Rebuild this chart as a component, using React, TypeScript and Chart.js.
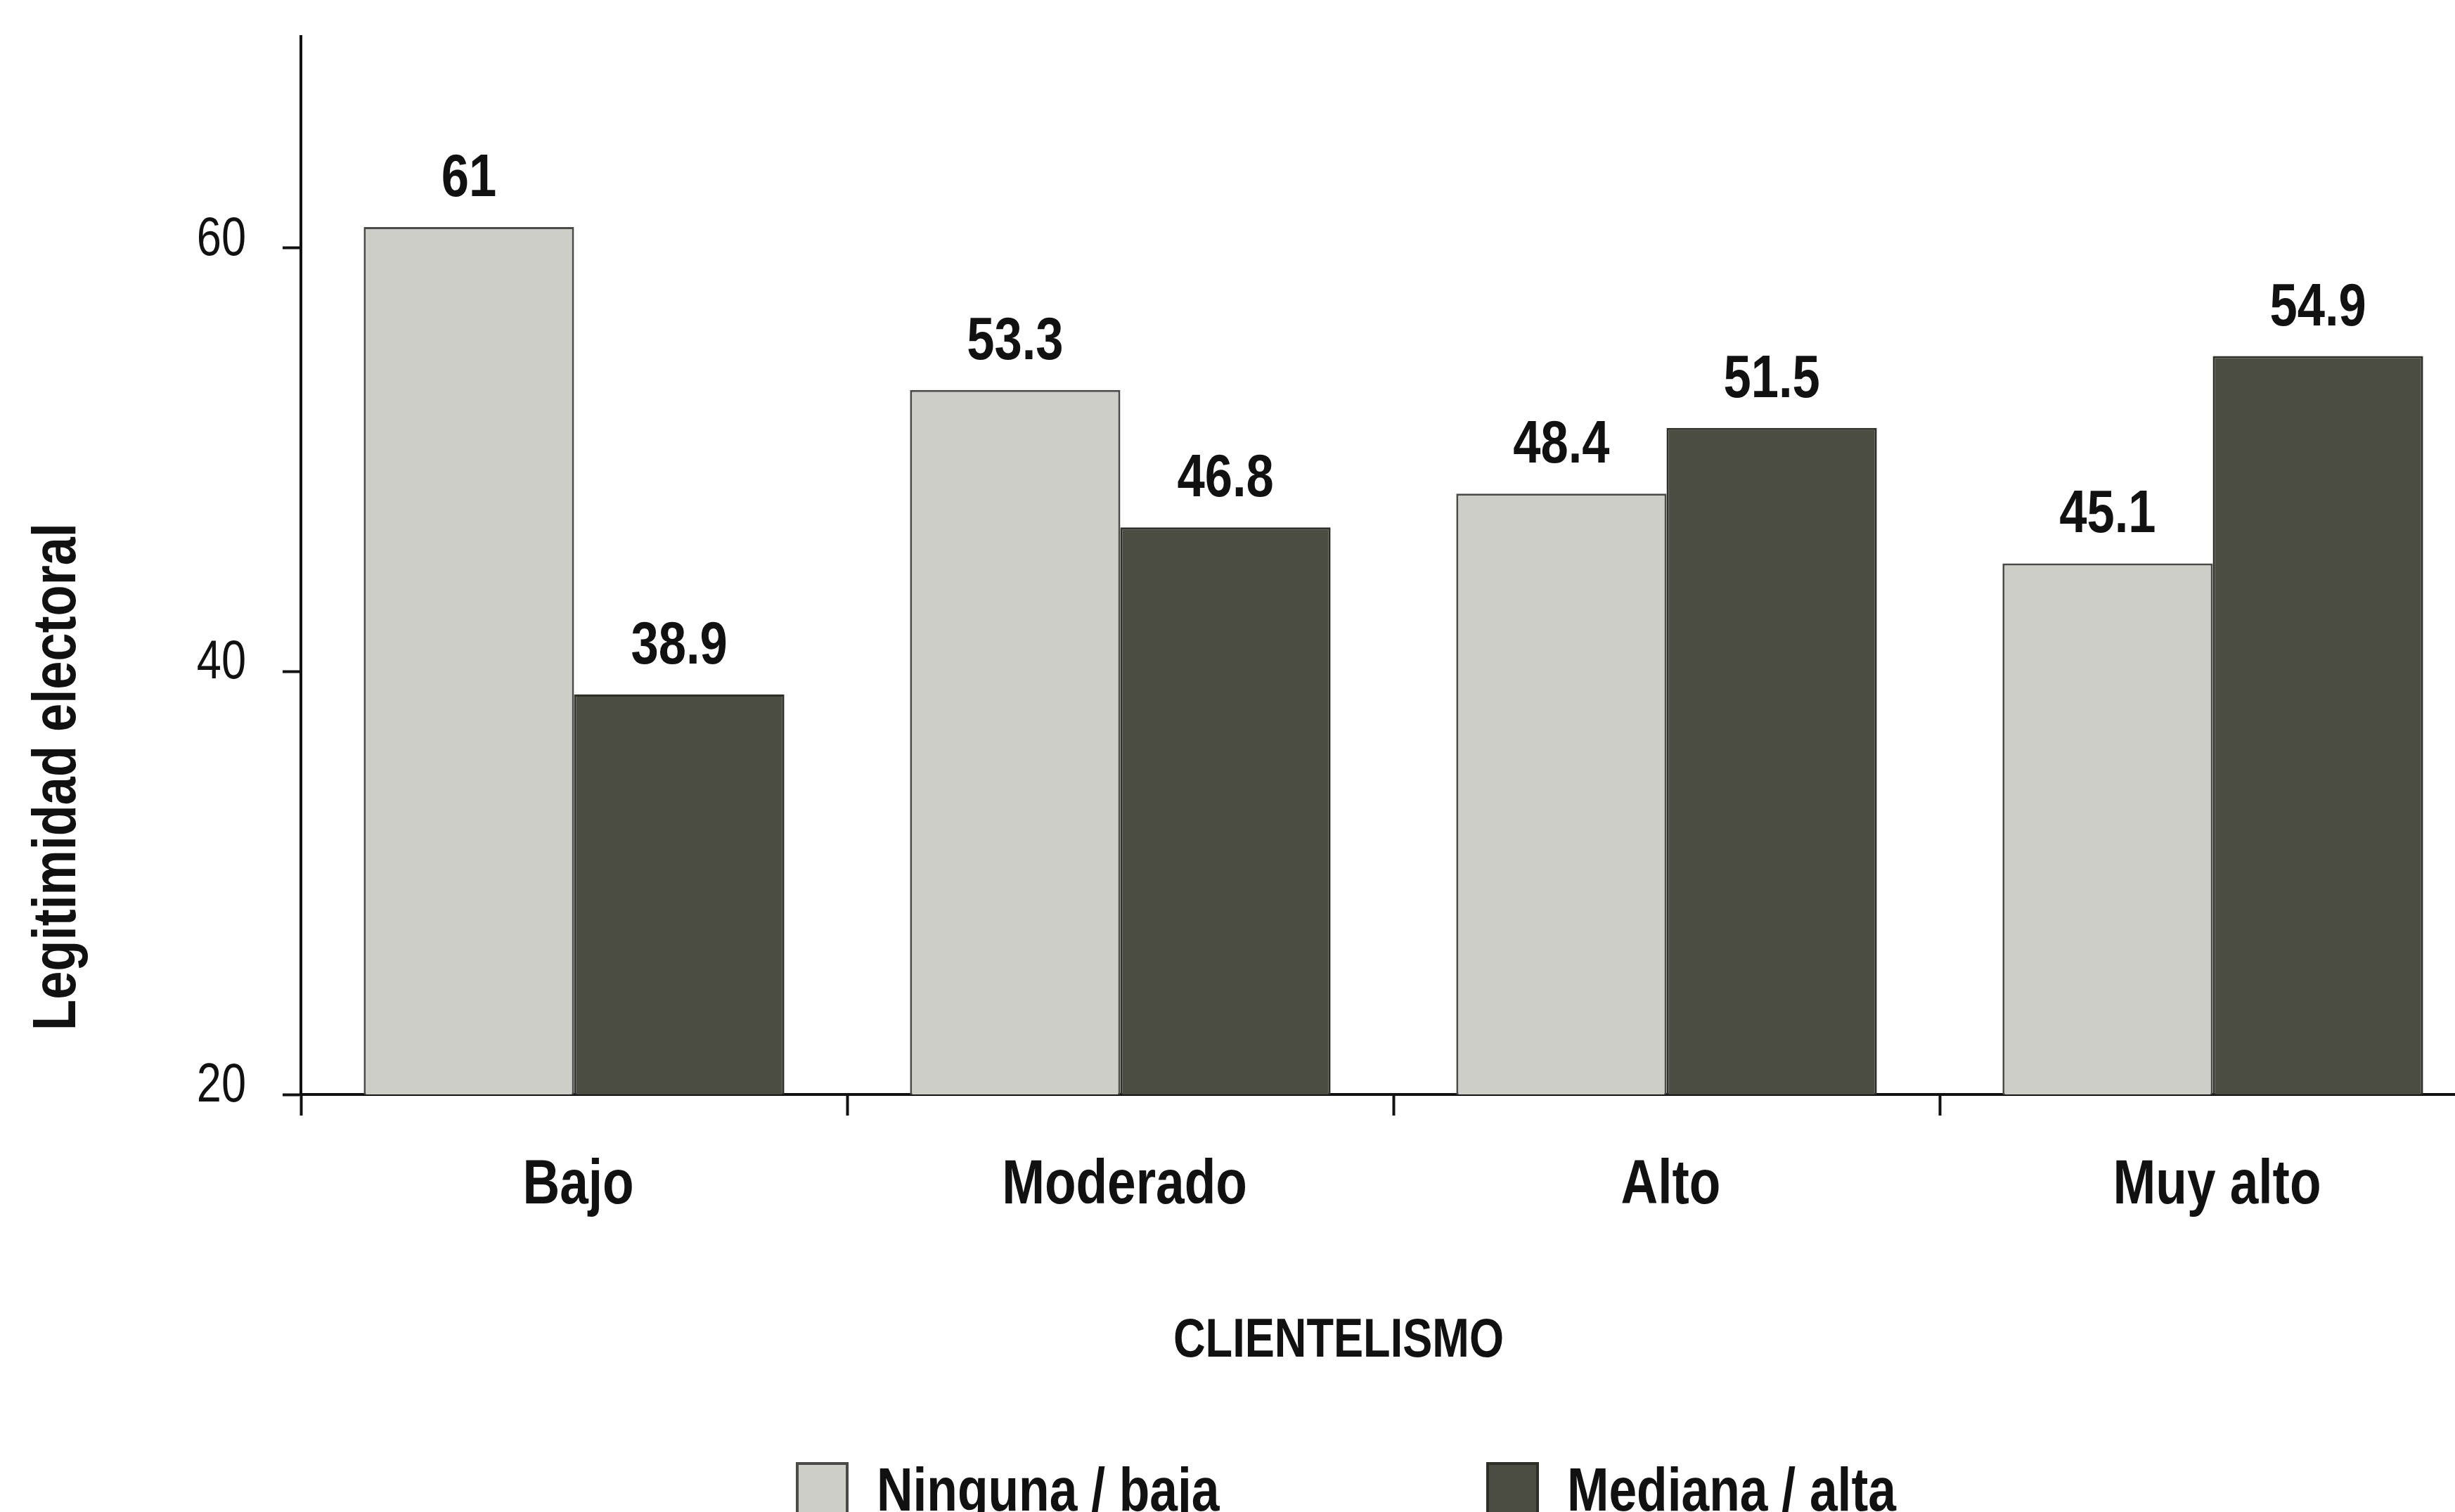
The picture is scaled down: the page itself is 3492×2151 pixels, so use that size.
import React, { useEffect, useRef } from "react";
import { Chart, registerables } from "chart.js";

Chart.register(...registerables);

const categories = ["Bajo", "Moderado", "Alto", "Muy alto"];
const seriesNames = ["Ninguna / baja", "Mediana / alta"];
const ningunaBaja = [61, 53.3, 48.4, 45.1];
const medianaAlta = [38.9, 46.8, 51.5, 54.9];
const yTicks = [20, 40, 60];
const yMin = 20;
const yMax = 70;
const yTitle = "Legitimidad electoral";
const xTitle = "CLIENTELISMO";

const FONT = '"Liberation Sans", Arial, sans-serif';
const NARROW = 0.82; // emulates Arial Narrow
const TEXT = "#111111";
const LIGHT = "#cdcec8";
const DARK = "#4b4d43";
const LIGHT_BORDER = "#4a4a48";
const DARK_BORDER = "#2e2f28";

const CANVAS_W = 3540;
const CANVAS_H = 2151;

function narrowText(
  ctx: CanvasRenderingContext2D,
  text: string,
  x: number,
  y: number,
  align: CanvasTextAlign,
  rotate = 0
) {
  ctx.save();
  ctx.translate(x, y);
  if (rotate) ctx.rotate(rotate);
  ctx.scale(NARROW, 1);
  ctx.textAlign = align;
  ctx.textBaseline = "alphabetic";
  ctx.fillText(text, 0, 0);
  ctx.restore();
}

const extras = {
  id: "extras",
  afterDatasetsDraw(chart: any) {
    const ctx = chart.ctx;
    ctx.save();
    ctx.fillStyle = TEXT;
    ctx.font = `bold 86px ${FONT}`;
    chart.data.datasets.forEach((ds: any, i: number) => {
      chart.getDatasetMeta(i).data.forEach((bar: any, j: number) => {
        narrowText(ctx, String(ds.data[j]), bar.x, bar.y - 44, "center");
      });
    });
    ctx.restore();
  },
  afterDraw(chart: any) {
    const ctx = chart.ctx;
    const xs = chart.scales.x;
    const ys = chart.scales.y;
    ctx.save();
    ctx.fillStyle = TEXT;

    // y tick labels (from the y scale's own ticks)
    ctx.font = `77px ${FONT}`;
    ys.ticks.forEach((t: any) => {
      const py = ys.getPixelForValue(t.value);
      narrowText(ctx, String(t.value), ys.right - 78, py + 10, "right");
    });

    // x category labels (from the x scale)
    ctx.font = `bold 89px ${FONT}`;
    chart.data.labels.forEach((lab: string, i: number) => {
      const px = xs.getPixelForTick(i);
      narrowText(ctx, lab, px + 6, xs.top + 155, "center");
    });

    // y title
    ctx.font = `bold 88px ${FONT}`;
    narrowText(ctx, yTitle, 107, 1105, "center", -Math.PI / 2);

    // x title
    ctx.font = `bold 77px ${FONT}`;
    narrowText(ctx, xTitle, 1904, 1930, "center");

    // legend
    const boxX = [1132, 2114];
    ctx.font = `bold 87px ${FONT}`;
    chart.data.datasets.forEach((ds: any, i: number) => {
      ctx.fillStyle = ds.backgroundColor;
      ctx.fillRect(boxX[i], 2080, 75, 75);
      ctx.strokeStyle = ds.borderColor;
      ctx.lineWidth = 4;
      ctx.strokeRect(boxX[i] + 2, 2082, 71, 71);
      ctx.fillStyle = TEXT;
      narrowText(ctx, ds.label, boxX[i] + 115, 2149, "left");
    });
    ctx.restore();
  },
};

export default function App() {
  const ref = useRef<HTMLCanvasElement | null>(null);

  useEffect(() => {
    if (!ref.current) return;
    const chart = new Chart(ref.current, {
      type: "bar",
      data: {
        labels: categories,
        datasets: [
          {
            label: seriesNames[0],
            data: ningunaBaja,
            backgroundColor: LIGHT,
            borderColor: LIGHT_BORDER,
            borderWidth: 3,
            categoryPercentage: 0.77,
            barPercentage: 1,
          },
          {
            label: seriesNames[1],
            data: medianaAlta,
            backgroundColor: DARK,
            borderColor: DARK_BORDER,
            borderWidth: 3,
            categoryPercentage: 0.77,
            barPercentage: 1,
          },
        ],
      },
      options: {
        animation: false,
        responsive: false,
        devicePixelRatio: 1,
        layout: { padding: { left: 0, top: 52, right: 4, bottom: 0 } },
        plugins: {
          legend: { display: false },
          tooltip: { enabled: false },
          title: { display: false },
        },
        scales: {
          x: {
            afterFit: (scale: any) => {
              scale.height = 594;
            },
            grid: {
              offset: true,
              drawOnChartArea: false,
              drawTicks: true,
              tickLength: 30,
              tickColor: "#111",
              tickWidth: 4,
            },
            border: { display: true, color: "#111", width: 4 },
            ticks: { display: false },
          },
          y: {
            min: yMin,
            max: yMax,
            afterFit: (scale: any) => {
              scale.width = 428;
            },
            afterBuildTicks: (scale: any) => {
              scale.ticks = yTicks.map((v) => ({ value: v }));
            },
            grid: {
              drawOnChartArea: false,
              drawTicks: true,
              tickLength: 26,
              tickColor: "#111",
              tickWidth: 4,
            },
            border: { display: true, color: "#111", width: 4 },
            ticks: { display: false },
          },
        },
      },
      plugins: [extras],
    });
    return () => chart.destroy();
  }, []);

  return (
    <div
      style={{
        position: "fixed",
        left: 0,
        top: 0,
        width: "3492px",
        height: "2151px",
        overflow: "hidden",
        background: "#ffffff",
      }}
    >
      <canvas
        ref={ref}
        width={CANVAS_W}
        height={CANVAS_H}
        style={{ display: "block", width: `${CANVAS_W}px`, height: `${CANVAS_H}px` }}
      />
    </div>
  );
}
